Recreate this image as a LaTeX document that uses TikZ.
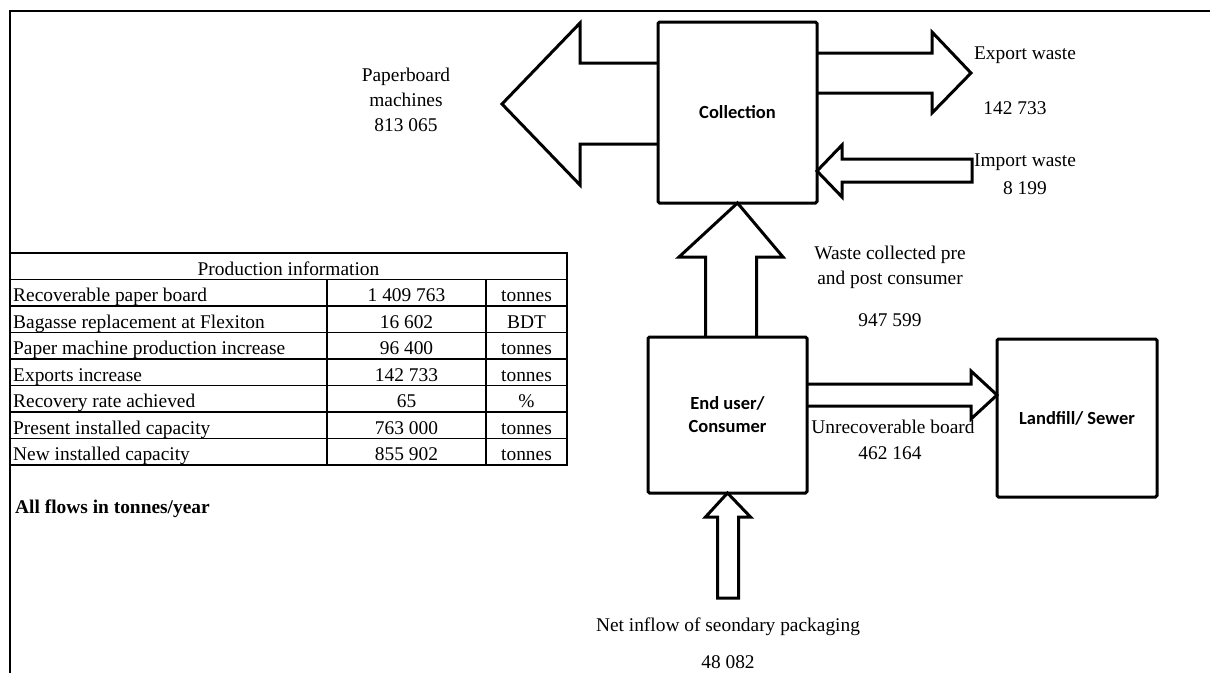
\documentclass[tikz,border=0pt]{standalone}
\usepackage{fontspec}
\setmainfont{Liberation Serif}
\newfontfamily\boxfont{Carlito}
\usetikzlibrary{calc}
\begin{document}
\begin{tikzpicture}[x=1pt,y=-1pt,
  txt/.style={font=\fontsize{19.4}{25}\selectfont, inner sep=0pt, align=center},
  cell/.style={font=\fontsize{19.4}{23}\selectfont, inner sep=0pt},
  boxnode/.style={draw, line width=3pt, rounded corners=1.5pt, inner sep=0pt, outer sep=0pt,
    align=center, font=\boxfont\bfseries\fontsize{18.5}{23}\selectfont},
  blockarrow/.style={draw, line width=3pt, line join=miter, miter limit=10},
  frame/.style={line width=2pt},
  grid/.style={line width=1.6pt}]
\useasboundingbox (0,0) rectangle (1210,673);

% sheet frame (top and left edges)
\draw[frame] (9,11) -- (1210,11);
\draw[frame] (10,11) -- (10,673);

% process boxes
\node[boxnode, minimum width=159pt, minimum height=181pt] (coll) at (737.5,112.5) {Collection};
\node[boxnode, minimum width=159pt, minimum height=156pt] (user) at (727.5,415) {End user/\\Consumer};
\node[boxnode, minimum width=160pt, minimum height=158pt] (land) at (1077,418) {Landfill/ Sewer};

% flow arrows
\draw[blockarrow] (coll.west |- 0,63) -- (580,63) -- (580,23) -- (502,104) -- (580,185) -- (580,144) -- (coll.west |- 0,144);
\draw[blockarrow] (coll.east |- 0,53) -- (932,53) -- (932,32) -- (971,73) -- (932,113) -- (932,93) -- (coll.east |- 0,93);
\draw[blockarrow] (coll.east |- 0,171) -- (842,145) -- (842,159) -- (972,159) -- (972,182) -- (842,182) -- (842,197) -- cycle;
\draw[blockarrow] (705.5,0 |- user.north) -- (705.5,257) -- (679,257) -- (coll.south) -- (783,257) -- (756.5,257) -- (756.5,0 |- user.north);
\draw[blockarrow] (user.east |- 0,384) -- (971,384) -- (971,371) -- (land.west |- 0,395) -- (971,419) -- (971,406) -- (user.east |- 0,406);
\draw[blockarrow] (user.south) -- (750.5,517) -- (738.5,517) -- (738.5,598) -- (717.5,598) -- (717.5,517) -- (705.5,517) -- cycle;

% flow labels
\node[txt] (lpb) at (406,100) {Paperboard\\machines\\813 065};
\node[txt] (lex) at (1025,55) {Export waste};
\node[txt] (vex) at (1015,108) {142 733};
\node[txt] (lim) at (1025,162) {Import waste};
\node[txt] (vim) at (1025,188) {8 199};
\node[txt] (lwc) at (890,267) {Waste collected pre\\and post consumer};
\node[txt] (vwc) at (890,320) {947 599};
\node[txt] (lun) at (893,427) {Unrecoverable board};
\node[txt] (vun) at (890,453) {462 164};
\node[txt] (lni) at (728,627) {Net inflow of seondary packaging};
\node[txt] (vni) at (728,662) {48 082};

% production information table
\draw[grid] (10,253) rectangle (567,465);
\foreach \k in {1,...,7} \draw[grid] (10,253+26.5*\k) -- (567,253+26.5*\k);
\draw[grid] (327,279.5) -- (327,465);
\draw[grid] (486,279.5) -- (486,465);
\node[cell, anchor=base] (thead) at (288.5,275) {Production information};
\foreach \lab/\val/\unit [count=\i] in {
  Recoverable paper board/1 409 763/tonnes,
  Bagasse replacement at Flexiton/16 602/BDT,
  Paper machine production increase/96 400/tonnes,
  Exports increase/142 733/tonnes,
  Recovery rate achieved/65/\%,
  Present installed capacity/763 000/tonnes,
  New installed capacity/855 902/tonnes}{
  \node[cell, anchor=base west] (r\i a) at (13,275+26.5*\i) {\lab};
  \node[cell, anchor=base] (r\i b) at (406.5,275+26.5*\i) {\val};
  \node[cell, anchor=base] (r\i c) at (526.5,275+26.5*\i) {\unit};
}
\node[cell, anchor=base west] (note) at (15,513) {\bfseries All flows in tonnes/year};
\end{tikzpicture}
\end{document}
